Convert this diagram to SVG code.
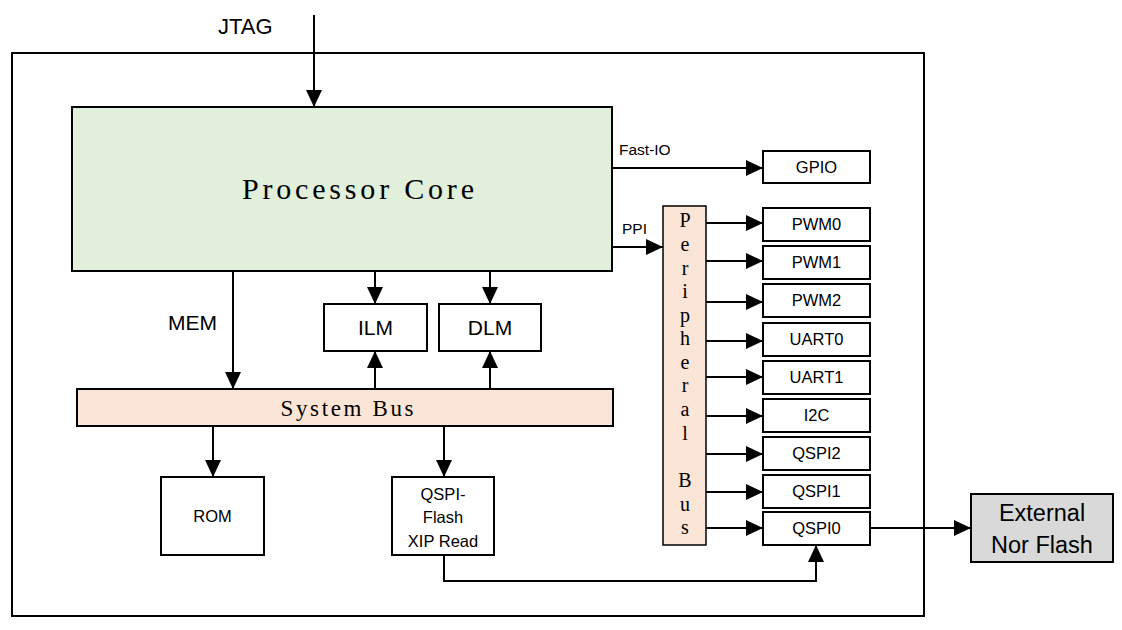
<svg xmlns="http://www.w3.org/2000/svg" width="1122" height="630" viewBox="0 0 1122 630">
<defs>
<marker id="ah" markerUnits="userSpaceOnUse" markerWidth="18" markerHeight="16" refX="17" refY="8" orient="auto">
<path d="M0,0 L17,8 L0,16 z" fill="#000"/>
</marker>
<style>
.box{fill:#fff;stroke:#000;stroke-width:2}
.ln{fill:none;stroke:#000;stroke-width:2}
.sans{font-family:"Liberation Sans",Arial,sans-serif;fill:#000}
.ser{font-family:"Liberation Serif","DejaVu Serif",serif;fill:#000}
.c{text-anchor:middle}
.pl{font-size:16.5px}
</style>
</defs>
<rect width="1122" height="630" fill="#fff"/>
<g id="frame"><rect x="12" y="53" width="912" height="563" class="ln"/></g>
<g id="jtag-label"><text x="218" y="34" class="sans" font-size="22">JTAG</text></g>
<g id="core"><rect x="72" y="107" width="540" height="164" fill="#e2efda" stroke="#000" stroke-width="2"/>
<text x="358" y="199" class="ser c" font-size="30" textLength="232" lengthAdjust="spacing">Processor Core</text></g>
<g id="ilm"><rect x="324" y="304" width="103" height="47" class="box"/><text x="375.5" y="335" class="sans c" font-size="21">ILM</text></g>
<g id="dlm"><rect x="439" y="304" width="102" height="47" class="box"/><text x="490" y="335" class="sans c" font-size="21">DLM</text></g>
<g id="sysbus"><rect x="77" y="389" width="536" height="37" fill="#fbe5d6" stroke="#000" stroke-width="2"/>
<text x="347" y="416" class="ser c" font-size="23" textLength="133" lengthAdjust="spacing">System Bus</text></g>
<g id="rom"><rect x="161" y="477" width="103" height="78" class="box"/><text x="212.5" y="522" class="sans c pl">ROM</text></g>
<g id="xip"><rect x="392" y="477" width="102" height="78" class="box"/>
<text x="443" y="500" class="sans c pl">QSPI-</text><text x="443" y="523" class="sans c pl">Flash</text><text x="443" y="547" class="sans c pl">XIP Read</text></g>
<g id="perbus"><rect x="663" y="206" width="43" height="339" fill="#fbe5d6" stroke="#000" stroke-width="1.5"/>
<text class="ser c" font-size="20" x="685" y="227">P<tspan x="685" dy="24">e</tspan><tspan x="685" dy="23.5">r</tspan><tspan x="685" dy="23.5">i</tspan><tspan x="685" dy="23.5">p</tspan><tspan x="685" dy="23.5">h</tspan><tspan x="685" dy="23.5">e</tspan><tspan x="685" dy="23.5">r</tspan><tspan x="685" dy="24">a</tspan><tspan x="685" dy="24">l</tspan><tspan x="685" dy="47">B</tspan><tspan x="685" dy="24">u</tspan><tspan x="685" dy="23">s</tspan></text></g>
<g id="gpio"><rect x="763" y="151" width="107" height="32" class="box"/><text x="816.5" y="173" class="sans c pl">GPIO</text></g>
<g id="pwm0"><rect x="763" y="208" width="107" height="33" class="box"/><text x="816.5" y="230" class="sans c pl">PWM0</text></g>
<g id="pwm1"><rect x="763" y="246" width="107" height="33" class="box"/><text x="816.5" y="268" class="sans c pl">PWM1</text></g>
<g id="pwm2"><rect x="763" y="284" width="107" height="33" class="box"/><text x="816.5" y="306" class="sans c pl">PWM2</text></g>
<g id="uart0"><rect x="763" y="323" width="107" height="33" class="box"/><text x="816.5" y="345" class="sans c pl">UART0</text></g>
<g id="uart1"><rect x="763" y="361" width="107" height="33" class="box"/><text x="816.5" y="383" class="sans c pl">UART1</text></g>
<g id="i2c"><rect x="763" y="399" width="107" height="33" class="box"/><text x="816.5" y="421" class="sans c pl">I2C</text></g>
<g id="qspi2"><rect x="763" y="437" width="107" height="33" class="box"/><text x="816.5" y="459" class="sans c pl">QSPI2</text></g>
<g id="qspi1"><rect x="763" y="475" width="107" height="33" class="box"/><text x="816.5" y="497" class="sans c pl">QSPI1</text></g>
<g id="qspi0"><rect x="763" y="512" width="107" height="33" class="box"/><text x="816.5" y="534" class="sans c pl">QSPI0</text></g>
<g id="ext"><rect x="971" y="494" width="142" height="68" fill="#d9d9d9" stroke="#000" stroke-width="2"/>
<text x="1042" y="521" class="sans c" font-size="23.5">External</text><text x="1042" y="553" class="sans c" font-size="23.5">Nor Flash</text></g>
<g id="connectors" class="ln">
<path d="M314,15 V107" class="ln" marker-end="url(#ah)"/>
<path d="M233,271 V389" class="ln" marker-end="url(#ah)"/>
<path d="M375,271 V304" class="ln" marker-end="url(#ah)"/>
<path d="M490,271 V304" class="ln" marker-end="url(#ah)"/>
<path d="M375,389 V351" class="ln" marker-end="url(#ah)"/>
<path d="M490,389 V351" class="ln" marker-end="url(#ah)"/>
<path d="M213,426 V477" class="ln" marker-end="url(#ah)"/>
<path d="M444,426 V477" class="ln" marker-end="url(#ah)"/>
<path d="M612,168 H763" class="ln" marker-end="url(#ah)"/>
<path d="M612,247 H663" class="ln" marker-end="url(#ah)"/>
<path d="M706,223 H763" class="ln" marker-end="url(#ah)"/>
<path d="M706,261 H763" class="ln" marker-end="url(#ah)"/>
<path d="M706,302 H763" class="ln" marker-end="url(#ah)"/>
<path d="M706,341 H763" class="ln" marker-end="url(#ah)"/>
<path d="M706,377 H763" class="ln" marker-end="url(#ah)"/>
<path d="M706,416 H763" class="ln" marker-end="url(#ah)"/>
<path d="M706,454 H763" class="ln" marker-end="url(#ah)"/>
<path d="M706,492 H763" class="ln" marker-end="url(#ah)"/>
<path d="M706,528 H763" class="ln" marker-end="url(#ah)"/>
<path d="M870,528 H971" class="ln" marker-end="url(#ah)"/>
<path d="M444,555 V581 H816 V545" class="ln" marker-end="url(#ah)"/>
</g>
<g id="labels">
<text x="168" y="330" class="sans" font-size="21">MEM</text>
<text x="619" y="155" class="sans" font-size="15.5">Fast-IO</text>
<text x="622" y="234" class="sans" font-size="15.5">PPI</text>
</g>
</svg>
